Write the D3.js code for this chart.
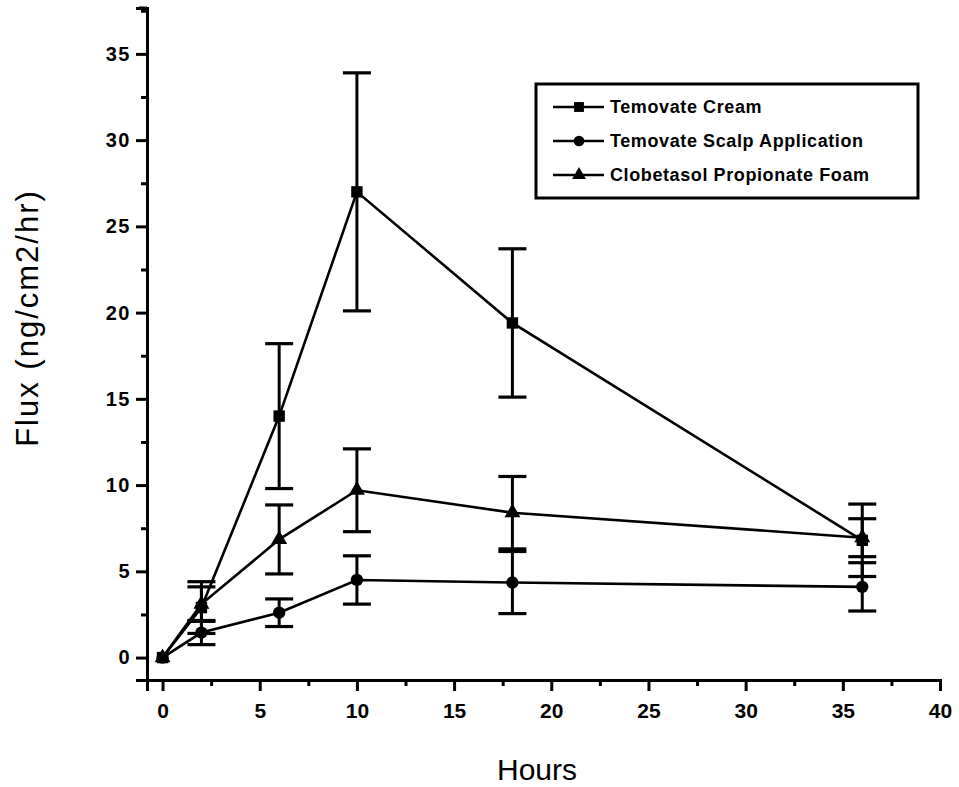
<!DOCTYPE html>
<html>
<head>
<meta charset="utf-8">
<script src="https://cdn.jsdelivr.net/npm/d3@7/dist/d3.min.js"></script>
<style>
  html, body { margin: 0; padding: 0; background: #fff; }
  svg { display: block; font-family: "Liberation Sans", Arial, Helvetica, sans-serif; }
</style>
</head>
<body>
<svg id="chart" width="959" height="787"></svg>
<script>
// ---- data ----
const hours = [0, 2, 6, 10, 18, 36];
const seriesNames = ["Temovate Cream", "Temovate Scalp Application", "Clobetasol Propionate Foam"];
const creamValues = [0, 2.9, 14.0, 27.0, 19.4, 6.8];
const creamErrors = [0, 1.5, 4.2, 6.9, 4.3, 2.1];
const scalpValues = [0, 1.45, 2.6, 4.5, 4.35, 4.1];
const scalpErrors = [0, 0.7, 0.8, 1.4, 1.8, 1.4];
const foamValues = [0, 3.1, 6.85, 9.7, 8.4, 6.95];
const foamErrors = [0, 1.0, 2.0, 2.4, 2.1, 1.1];
const xTickValues = [0, 5, 10, 15, 20, 25, 30, 35, 40];
const yTickValues = [0, 5, 10, 15, 20, 25, 30, 35];
const xTitle = "Hours";
const yTitle = "Flux (ng/cm2/hr)";

const series = [
  { name: seriesNames[0], values: creamValues, errors: creamErrors, symbol: d3.symbolSquare, size: 130 },
  { name: seriesNames[1], values: scalpValues, errors: scalpErrors, symbol: d3.symbolCircle, size: 120 },
  { name: seriesNames[2], values: foamValues, errors: foamErrors, symbol: d3.symbolTriangle, size: 110 }
];

const svg = d3.select("#chart");
const ink = "#000";

const axisX0 = 147, axisY0 = 680;
const x = d3.scaleLinear().domain([-0.8, 40]).range([axisX0, 940]);
const y = d3.scaleLinear().domain([-1.3, 37.66]).range([axisY0, 8]);

// ---- axes ----
const yAxis = d3.axisLeft(y).tickValues(yTickValues).tickSize(11).tickPadding(5).tickFormat(d3.format("d"));
const yMinor = d3.axisLeft(y).tickValues(d3.range(2.5, 37.6, 5)).tickSize(6).tickFormat("");
const xAxis = d3.axisBottom(x).tickValues(xTickValues).tickSize(11).tickPadding(12).tickFormat(d3.format("d"));
const xMinor = d3.axisBottom(x).tickValues(d3.range(2.5, 40, 5)).tickSize(6).tickFormat("");

function styleAxis(g) {
  g.select(".domain").attr("stroke", ink).attr("stroke-width", 3);
  g.selectAll(".tick line").attr("stroke", ink).attr("stroke-width", 3);
  g.selectAll(".tick text").attr("fill", ink).style("font-weight", "bold");
}

const gy = svg.append("g").attr("transform", `translate(${axisX0},0)`).call(yAxis).call(styleAxis);
gy.selectAll(".tick text").style("font-size", "20px").style("letter-spacing", "1.5px");
svg.append("g").attr("transform", `translate(${axisX0},0)`).call(yMinor).call(styleAxis)
  .select(".domain").remove();
// top end cap of the y axis
svg.append("line").attr("x1", axisX0 - 8).attr("x2", axisX0).attr("y1", y(37.66)).attr("y2", y(37.66))
  .attr("stroke", ink).attr("stroke-width", 3);

const gx = svg.append("g").attr("transform", `translate(0,${axisY0})`).call(xAxis).call(styleAxis);
gx.selectAll(".tick text").style("font-size", "21px");
svg.append("g").attr("transform", `translate(0,${axisY0})`).call(xMinor).call(styleAxis)
  .select(".domain").remove();

// axis titles
svg.append("text").attr("x", 537).attr("y", 780).attr("text-anchor", "middle")
  .style("font-size", "30px").attr("fill", ink).text(xTitle);
svg.append("text").attr("transform", "translate(38,318) rotate(-90)").attr("text-anchor", "middle")
  .style("font-size", "31px").style("letter-spacing", "2px").attr("fill", ink).text(yTitle);

// ---- series ----
const line = d3.line().x((d, i) => x(hours[i])).y(d => y(d));
const plot = svg.append("g");

series.forEach(s => {
  plot.append("path").datum(s.values).attr("d", line)
    .attr("fill", "none").attr("stroke", ink).attr("stroke-width", 2.6);
});

series.forEach(s => {
  const eb = plot.append("g");
  s.values.forEach((v, i) => {
    const e = s.errors[i];
    if (!e) return;
    const cx = x(hours[i]);
    eb.append("line").attr("x1", cx).attr("x2", cx).attr("y1", y(v + e)).attr("y2", y(v - e))
      .attr("stroke", ink).attr("stroke-width", 3);
    [v + e, v - e].forEach(t => {
      eb.append("line").attr("x1", cx - 14).attr("x2", cx + 14).attr("y1", y(t)).attr("y2", y(t))
        .attr("stroke", ink).attr("stroke-width", 3.2);
    });
  });
});

series.forEach(s => {
  plot.append("g").selectAll("path").data(s.values).join("path")
    .attr("transform", (d, i) => `translate(${x(hours[i])},${y(d)})`)
    .attr("d", d3.symbol().type(s.symbol).size(s.size))
    .attr("fill", ink);
});

// ---- legend ----
const legend = svg.append("g");
legend.append("rect").attr("x", 536).attr("y", 84).attr("width", 382).attr("height", 114)
  .attr("fill", "#fff").attr("stroke", ink).attr("stroke-width", 3);
series.forEach((s, i) => {
  const ly = 107 + i * 34;
  legend.append("line").attr("x1", 553).attr("x2", 604).attr("y1", ly).attr("y2", ly)
    .attr("stroke", ink).attr("stroke-width", 2.6);
  legend.append("path").attr("transform", `translate(579,${ly})`)
    .attr("d", d3.symbol().type(s.symbol).size(s.size * 0.75)).attr("fill", ink);
  legend.append("text").attr("x", 610).attr("y", ly + 6)
    .style("font-size", "18px").style("font-weight", "bold").style("letter-spacing", "0.6px")
    .attr("fill", ink).text(s.name);
});
</script>
</body>
</html>
